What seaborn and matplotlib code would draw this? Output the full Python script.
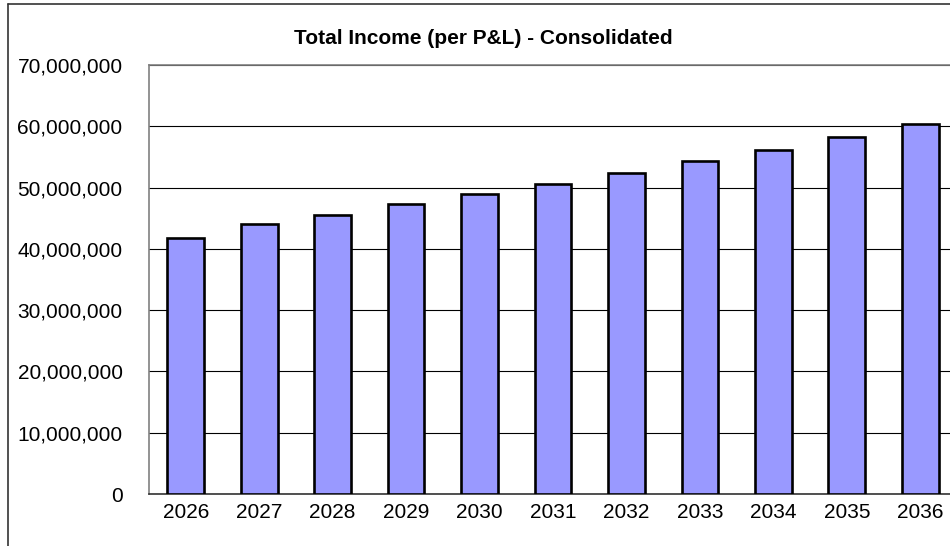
import matplotlib
matplotlib.use("Agg")
import matplotlib.pyplot as plt
import matplotlib.ticker as mticker
from matplotlib.lines import Line2D
import seaborn as sns
import pandas as pd

# --- data ---
years = ["2026", "2027", "2028", "2029", "2030", "2031",
         "2032", "2033", "2034", "2035", "2036"]
total_income = [41_700_000, 44_000_000, 45_600_000, 47_300_000, 48_900_000, 50_600_000,
                52_400_000, 54_300_000, 56_200_000, 58_200_000, 60_300_000]

TITLE = "Total Income (per P&L) - Consolidated"
BAR_COLOR = "#9999FF"

sns.set_style("white")
plt.rcParams["font.family"] = ["Liberation Sans", "DejaVu Sans"]

df = pd.DataFrame({"Year": years, "Income": total_income})

fig = plt.figure(figsize=(9.5, 5.46), dpi=100)
# plot area runs a little past the right edge, like the cropped reference
ax = fig.add_axes([149 / 950, 1 - 494 / 546, 808 / 950, 429 / 546])

sns.barplot(data=df, x="Year", y="Income", color=BAR_COLOR, saturation=1,
            edgecolor="black", linewidth=1.9, width=0.5, ax=ax, zorder=3)

ax.set_xlim(-0.5, len(years) - 0.5)
ax.set_ylim(0, 70_000_000)
ax.yaxis.set_major_locator(mticker.MultipleLocator(10_000_000))
ax.yaxis.set_major_formatter(mticker.FuncFormatter(lambda v, p: f"{int(v):,}"))
ax.grid(axis="y", color="black", linewidth=0.8, zorder=0)
ax.set_axisbelow(True)

# category separators as ticks, labels centred on bars
ax.set_xticks([i - 0.5 for i in range(len(years) + 1)], minor=True)
ax.tick_params(axis="x", which="minor", direction="out", length=5, width=1, color="#444444")
ax.tick_params(axis="x", which="major", length=0, pad=6.5, labelsize=15, labelcolor="black")
ax.tick_params(axis="y", direction="out", length=5, width=1, color="#444444",
               pad=14, labelsize=15, labelcolor="black")
ax.set_xlabel("")
ax.set_ylabel("")

for side in ["left", "top", "right"]:
    ax.spines[side].set_color("#808080")
    ax.spines[side].set_linewidth(1.2)
ax.spines["bottom"].set_color("#333333")
ax.spines["bottom"].set_linewidth(1.2)

fig.text(483 / 950, 1 - 39 / 546, TITLE, ha="center", va="center",
         fontsize=15, fontweight="bold", color="black")

# chart area border (only left and top are visible in the crop)
fig.add_artist(Line2D([8 / 950, 8 / 950], [0, 1 - 4 / 546], transform=fig.transFigure,
                      color="#333333", linewidth=1.2))
fig.add_artist(Line2D([8 / 950, 1], [1 - 4 / 546, 1 - 4 / 546], transform=fig.transFigure,
                      color="#333333", linewidth=1.2))

fig.savefig("out.png", dpi=100)
plt.close(fig)
